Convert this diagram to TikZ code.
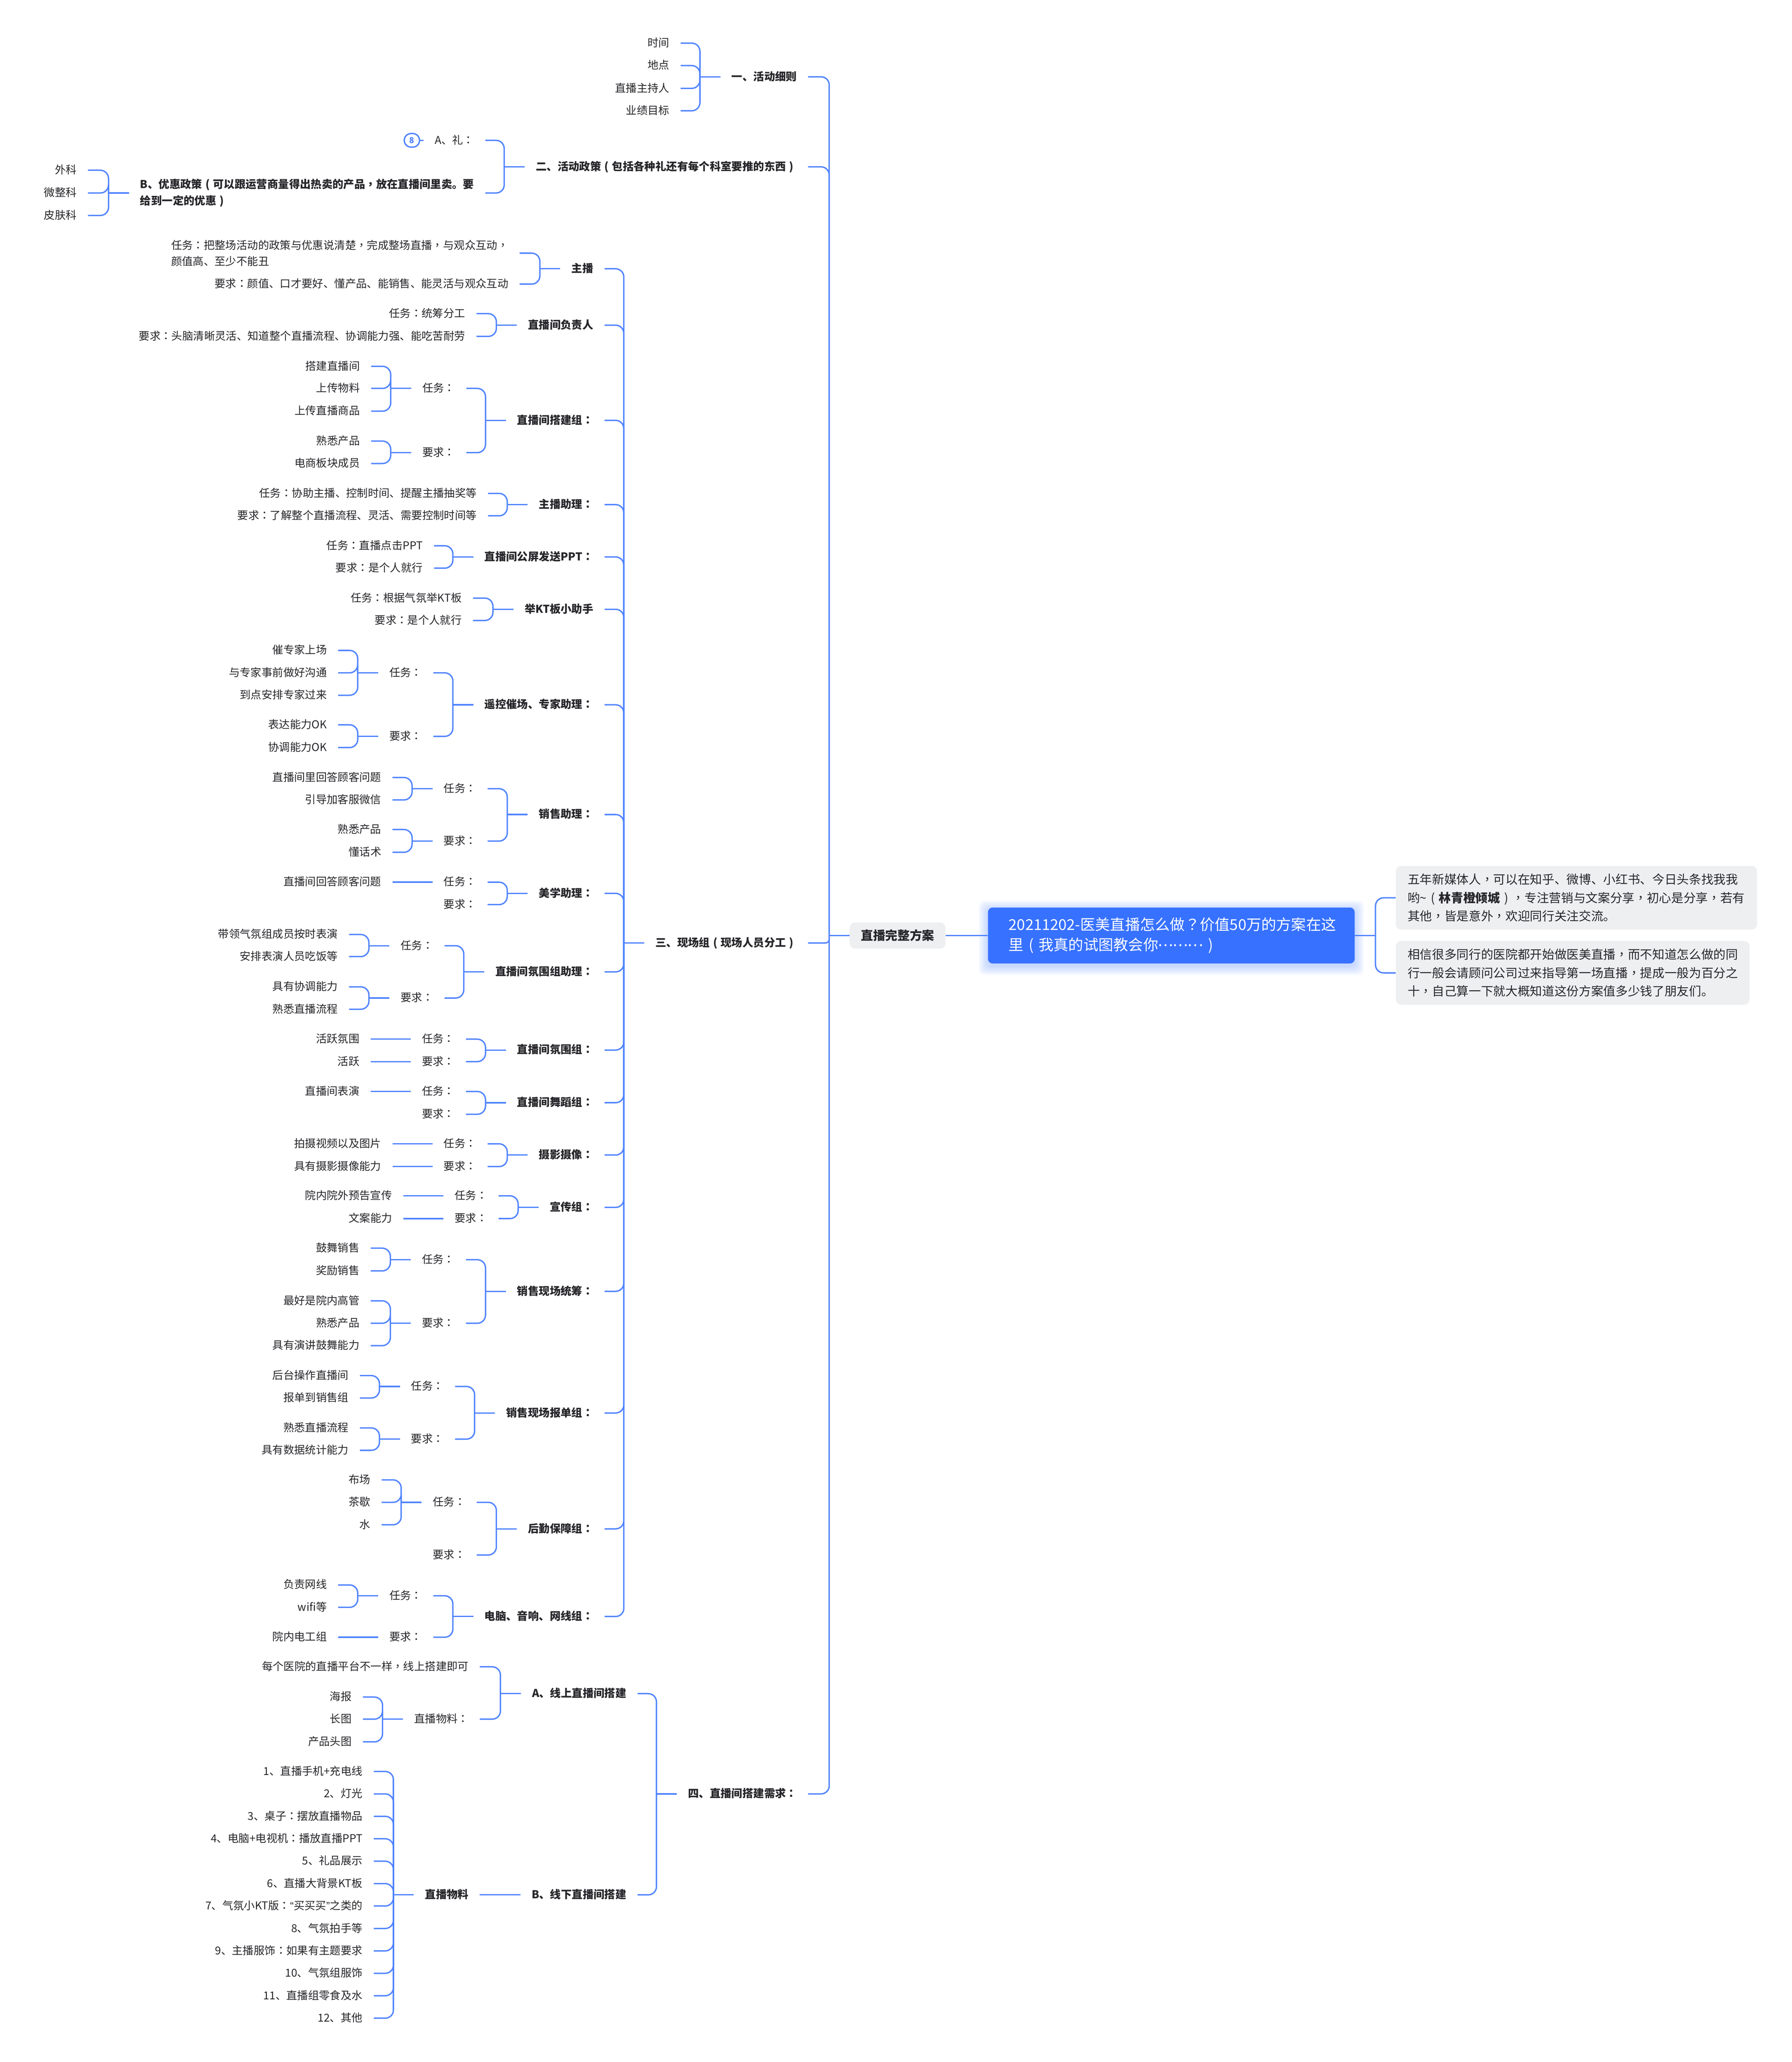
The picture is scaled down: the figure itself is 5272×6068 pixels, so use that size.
\documentclass[tikz,border=0pt]{standalone}
\usepackage{fontspec}
\usepackage{newunicodechar}
\setmainfont{Noto Sans CJK SC}
\newfontfamily\tcpunct{Noto Sans CJK TC}
\newfontfamily\quotefont{Liberation Sans}
\newunicodechar{：}{{\tcpunct\symbol{"FF1A}}}
\newunicodechar{，}{{\tcpunct\symbol{"FF0C}}}
\newunicodechar{（}{\makebox[1em][c]{(}}
\newunicodechar{）}{\makebox[1em][c]{)}}
\newunicodechar{？}{{\tcpunct\symbol{"FF1F}}}
\newunicodechar{…}{\raisebox{0.3em}{\makebox[1em][s]{.\hfil.\hfil.}}}
\newunicodechar{“}{{\quotefont\symbol{"201C}}}
\newunicodechar{”}{{\quotefont\symbol{"201D}}}
\usetikzlibrary{calc,backgrounds}
\definecolor{wire}{RGB}{79,131,255}
\definecolor{ink}{RGB}{38,38,42}
\definecolor{paper}{RGB}{238,239,241}
\definecolor{rootblue}{RGB}{55,113,255}
\newcommand{\branch}[2]{%
	\draw[link] (#1.west) -- ++(-60,0) coordinate (#1-trunk);
	\foreach \kid in {#2} {\draw[link,rounded corners=24pt] (#1-trunk) |- (\kid.east);}
}
\begin{document}
\begin{tikzpicture}[
	x=1pt, y=-1pt,
	txt/.style={anchor=east, inner xsep=33pt, inner ysep=0pt, text=ink, font=\fontsize{32}{48}\selectfont},
	leaf/.style={txt, text height=24pt, text depth=2.6pt},
	head/.style={leaf, font=\fontsize{32}{48}\selectfont\bfseries},
	para/.style={txt, align=left},
	note/.style={anchor=west, fill=paper, rounded corners=16pt, inner xsep=35pt, inner ysep=0pt, minimum height=188pt, align=left, text=ink, font=\fontsize{36}{54}\selectfont},
	link/.style={draw=wire, line width=4pt},
	gift/.style={draw=wire, line width=4pt, fill=white, rounded corners=20pt, minimum width=45pt, minimum height=40pt, inner sep=0pt, text=wire, font=\fontsize{24}{24}\selectfont\bfseries}
	]
	\useasboundingbox (0,0) rectangle (5272,6068);

	% ===== ROOT =====
	\node[note, inner xsep=33pt, minimum height=77pt, font=\fontsize{36}{54}\selectfont\bfseries] (core) at (2500,2753) {直播完整方案};
	\node[note, fill=rootblue, text=white, rounded corners=14pt, inner xsep=61pt, text width=957pt, minimum height=165pt, font=\fontsize{44}{60}\selectfont] (title) at (2907,2753) {20211202-医美直播怎么做？价值50万的方案在这\\里（我真的试图教会你………）};
	\begin{scope}[on background layer]
		\foreach \g in {3,7,...,27} {
			\fill[rootblue, opacity=0.045, rounded corners=16pt] ($(title.south west)+(-\g,\g+7)$) rectangle ($(title.north east)+(\g,-\g+7)$);
		}
	\end{scope}
	\node[note, text width=993pt] (N1) at (4107,2642) {五年新媒体人，可以在知乎、微博、小红书、今日头条找我我\\哟\textasciitilde（{\bfseries 林青橙倾城}），专注营销与文案分享，初心是分享，若有\\其他，皆是意外，欢迎同行关注交流。};
	\node[note, text width=971pt] (N2) at (4107,2863) {相信很多同行的医院都开始做医美直播，而不知道怎么做的同\\行一般会请顾问公司过来指导第一场直播，提成一般为百分之\\十，自己算一下就大概知道这份方案值多少钱了朋友们。};

	\draw[link] (core.east) -- (title.west);
	\draw[link] (title.east) -- ++(61,0) coordinate (title-trunk);
	\foreach \kid in {N1,N2} {\draw[link,rounded corners=24pt] (title-trunk) |- (\kid.west);}

	% ===== MAIN BRANCHES =====
	\node[head] (S1) at (2378,226) {一、活动细则};
	\node[head] (S2) at (2378,491) {二、活动政策（包括各种礼还有每个科室要推的东西）};
	\node[head] (S3) at (2378,2775) {三、现场组（现场人员分工）};
	\node[head] (S4) at (2378,5279) {四、直播间搭建需求：};
	\branch{core}{S1,S2,S4}
	\draw[link,rounded corners=11pt] (core-trunk) |- (S3.east);

	% ===== 一 =====
	\node[leaf] (S1a) at (2003,127) {时间};
	\node[leaf] (S1b) at (2003,193) {地点};
	\node[leaf] (S1c) at (2003,260) {直播主持人};
	\node[leaf] (S1d) at (2003,326) {业绩目标};
	\branch{S1}{S1a,S1b,S1c,S1d}

	% ===== 二 =====
	\node[leaf] (S2a) at (1428,413) {A、礼：};
	\node[para, font=\fontsize{32}{48}\selectfont\bfseries] (S2b) at (1428,568) {B、优惠政策（可以跟运营商量得出热卖的产品，放在直播间里卖。要\\给到一定的优惠）};
	\node[leaf] (S2b1) at (259,501) {外科};
	\node[leaf] (S2b2) at (259,568) {微整科};
	\node[leaf] (S2b3) at (259,634) {皮肤科};
	\node[gift] (S2m) at (1212,413) {8};
	\branch{S2}{S2a,S2b}
	\branch{S2b}{S2b1,S2b2,S2b3}
	\draw[link] (S2a.west) -- (S2m.east);

	% ===== 三: GROUPS =====
	\node[head] (G1) at (1779,791) {主播};
	\node[head] (G2) at (1779,957) {直播间负责人};
	\node[head] (G3) at (1779,1237) {直播间搭建组：};
	\node[head] (G4) at (1779,1485) {主播助理：};
	\node[head] (G5) at (1779,1639) {直播间公屏发送PPT：};
	\node[head] (G6) at (1779,1793) {举KT板小助手};
	\node[head] (G7) at (1779,2074) {遥控催场、专家助理：};
	\node[head] (G8) at (1779,2397) {销售助理：};
	\node[head] (G9) at (1779,2629) {美学助理：};
	\node[head] (G10) at (1779,2860) {直播间氛围组助理：};
	\node[head] (G11) at (1779,3090) {直播间氛围组：};
	\node[head] (G12) at (1779,3245) {直播间舞蹈组：};
	\node[head] (G13) at (1779,3399) {摄影摄像：};
	\node[head] (G14) at (1779,3553) {宣传组：};
	\node[head] (G15) at (1779,3800) {销售现场统筹：};
	\node[head] (G16) at (1779,4158) {销售现场报单组：};
	\node[head] (G17) at (1779,4499) {后勤保障组：};
	\node[head] (G18) at (1779,4757) {电脑、音响、网线组：};
	\branch{S3}{G1,G2,G3,G4,G5,G6,G7,G8,G9,G10,G11,G12,G13,G14,G15,G16,G17,G18}

	% ===== 主播, 负责人 =====
	\node[para] (G1T) at (1529,745) {任务：把整场活动的政策与优惠说清楚，完成整场直播，与观众互动，\\颜值高、至少不能丑};
	\node[leaf] (G1R) at (1529,836) {要求：颜值、口才要好、懂产品、能销售、能灵活与观众互动};
	\branch{G1}{G1T,G1R}
	\node[leaf] (G2T) at (1402,923) {任务：统筹分工};
	\node[leaf] (G2R) at (1402,990) {要求：头脑清晰灵活、知道整个直播流程、协调能力强、能吃苦耐劳};
	\branch{G2}{G2T,G2R}

	% ===== 搭建组 =====
	\node[leaf] (G3T) at (1372,1143) {任务：};
	\node[leaf] (G3R) at (1372,1332) {要求：};
	\node[leaf] (G3T1) at (1092,1078) {搭建直播间};
	\node[leaf] (G3T2) at (1092,1143) {上传物料};
	\node[leaf] (G3T3) at (1092,1210) {上传直播商品};
	\node[leaf] (G3R1) at (1092,1298) {熟悉产品};
	\node[leaf] (G3R2) at (1092,1364) {电商板块成员};
	\branch{G3}{G3T,G3R}
	\branch{G3T}{G3T1,G3T2,G3T3}
	\branch{G3R}{G3R1,G3R2}

	% ===== 主播助理, 公屏, 举KT板 =====
	\node[leaf] (G4T) at (1436,1452) {任务：协助主播、控制时间、提醒主播抽奖等};
	\node[leaf] (G4R) at (1436,1518) {要求：了解整个直播流程、灵活、需要控制时间等};
	\branch{G4}{G4T,G4R}
	\node[leaf] (G5T) at (1277,1606) {任务：直播点击PPT};
	\node[leaf] (G5R) at (1277,1672) {要求：是个人就行};
	\branch{G5}{G5T,G5R}
	\node[leaf] (G6T) at (1392,1760) {任务：根据气氛举KT板};
	\node[leaf] (G6R) at (1392,1826) {要求：是个人就行};
	\branch{G6}{G6T,G6R}

	% ===== 遥控 =====
	\node[leaf] (G7T) at (1275,1980) {任务：};
	\node[leaf] (G7R) at (1275,2167) {要求：};
	\node[leaf] (G7T1) at (995,1914) {催专家上场};
	\node[leaf] (G7T2) at (995,1980) {与专家事前做好沟通};
	\node[leaf] (G7T3) at (995,2046) {到点安排专家过来};
	\node[leaf] (G7R1) at (995,2133) {表达能力OK};
	\node[leaf] (G7R2) at (995,2200) {协调能力OK};
	\branch{G7}{G7T,G7R}
	\branch{G7T}{G7T1,G7T2,G7T3}
	\branch{G7R}{G7R1,G7R2}

	% ===== 销售助理 =====
	\node[leaf] (G8T) at (1435,2321) {任务：};
	\node[leaf] (G8R) at (1435,2475) {要求：};
	\node[leaf] (G8T1) at (1155,2288) {直播间里回答顾客问题};
	\node[leaf] (G8T2) at (1155,2354) {引导加客服微信};
	\node[leaf] (G8R1) at (1155,2441) {熟悉产品};
	\node[leaf] (G8R2) at (1155,2508) {懂话术};
	\branch{G8}{G8T,G8R}
	\branch{G8T}{G8T1,G8T2}
	\branch{G8R}{G8R1,G8R2}

	% ===== 美学助理 =====
	\node[leaf] (G9T) at (1435,2596) {任务：};
	\node[leaf] (G9R) at (1435,2662) {要求：};
	\node[leaf] (G9T1) at (1155,2596) {直播间回答顾客问题};
	\branch{G9}{G9T,G9R}
	\draw[link] (G9T.west) -- (G9T1.east);

	% ===== 氛围组助理 =====
	\node[leaf] (G10T) at (1308,2783) {任务：};
	\node[leaf] (G10R) at (1308,2937) {要求：};
	\node[leaf] (G10T1) at (1027,2750) {带领气氛组成员按时表演};
	\node[leaf] (G10T2) at (1027,2815) {安排表演人员吃饭等};
	\node[leaf] (G10R1) at (1027,2904) {具有协调能力};
	\node[leaf] (G10R2) at (1027,2970) {熟悉直播流程};
	\branch{G10}{G10T,G10R}
	\branch{G10T}{G10T1,G10T2}
	\branch{G10R}{G10R1,G10R2}

	% ===== 氛围组, 舞蹈组, 摄影, 宣传 =====
	\node[leaf] (G11T) at (1371,3058) {任务：};
	\node[leaf] (G11R) at (1371,3124) {要求：};
	\node[leaf] (G11T1) at (1091,3058) {活跃氛围};
	\node[leaf] (G11R1) at (1091,3124) {活跃};
	\branch{G11}{G11T,G11R}
	\draw[link] (G11T.west) -- (G11T1.east);
	\draw[link] (G11R.west) -- (G11R1.east);

	\node[leaf] (G12T) at (1371,3212) {任务：};
	\node[leaf] (G12R) at (1371,3279) {要求：};
	\node[leaf] (G12T1) at (1091,3212) {直播间表演};
	\branch{G12}{G12T,G12R}
	\draw[link] (G12T.west) -- (G12T1.east);

	\node[leaf] (G13T) at (1435,3366) {任务：};
	\node[leaf] (G13R) at (1435,3433) {要求：};
	\node[leaf] (G13T1) at (1155,3366) {拍摄视频以及图片};
	\node[leaf] (G13R1) at (1155,3433) {具有摄影摄像能力};
	\branch{G13}{G13T,G13R}
	\draw[link] (G13T.west) -- (G13T1.east);
	\draw[link] (G13R.west) -- (G13R1.east);

	\node[leaf] (G14T) at (1467,3519) {任务：};
	\node[leaf] (G14R) at (1467,3586) {要求：};
	\node[leaf] (G14T1) at (1187,3519) {院内院外预告宣传};
	\node[leaf] (G14R1) at (1187,3586) {文案能力};
	\branch{G14}{G14T,G14R}
	\draw[link] (G14T.west) -- (G14T1.east);
	\draw[link] (G14R.west) -- (G14R1.east);

	% ===== 统筹 =====
	\node[leaf] (G15T) at (1371,3707) {任务：};
	\node[leaf] (G15R) at (1371,3894) {要求：};
	\node[leaf] (G15T1) at (1091,3673) {鼓舞销售};
	\node[leaf] (G15T2) at (1091,3740) {奖励销售};
	\node[leaf] (G15R1) at (1091,3828) {最好是院内高管};
	\node[leaf] (G15R2) at (1091,3894) {熟悉产品};
	\node[leaf] (G15R3) at (1091,3960) {具有演讲鼓舞能力};
	\branch{G15}{G15T,G15R}
	\branch{G15T}{G15T1,G15T2}
	\branch{G15R}{G15R1,G15R2,G15R3}

	% ===== 报单组 =====
	\node[leaf] (G16T) at (1339,4080) {任务：};
	\node[leaf] (G16R) at (1339,4235) {要求：};
	\node[leaf] (G16T1) at (1059,4048) {后台操作直播间};
	\node[leaf] (G16T2) at (1059,4114) {报单到销售组};
	\node[leaf] (G16R1) at (1059,4202) {熟悉直播流程};
	\node[leaf] (G16R2) at (1059,4268) {具有数据统计能力};
	\branch{G16}{G16T,G16R}
	\branch{G16T}{G16T1,G16T2}
	\branch{G16R}{G16R1,G16R2}

	% ===== 后勤 =====
	\node[leaf] (G17T) at (1403,4421) {任务：};
	\node[leaf] (G17R) at (1403,4576) {要求：};
	\node[leaf] (G17T1) at (1123,4355) {布场};
	\node[leaf] (G17T2) at (1123,4421) {茶歇};
	\node[leaf] (G17T3) at (1123,4487) {水};
	\branch{G17}{G17T,G17R}
	\branch{G17T}{G17T1,G17T2,G17T3}

	% ===== 电脑 =====
	\node[leaf] (G18T) at (1275,4696) {任务：};
	\node[leaf] (G18R) at (1275,4818) {要求：};
	\node[leaf] (G18T1) at (995,4664) {负责网线};
	\node[leaf] (G18T2) at (995,4730) {wifi等};
	\node[leaf] (G18R1) at (995,4818) {院内电工组};
	\branch{G18}{G18T,G18R}
	\branch{G18T}{G18T1,G18T2}
	\draw[link] (G18R.west) -- (G18R1.east);

	% ===== 四 =====
	\node[head] (S4a) at (1876,4984) {A、线上直播间搭建};
	\node[head] (S4b) at (1876,5576) {B、线下直播间搭建};
	\branch{S4}{S4a,S4b}

	\node[leaf] (A1) at (1412,4905) {每个医院的直播平台不一样，线上搭建即可};
	\node[leaf] (A2) at (1412,5059) {直播物料：};
	\node[leaf] (A21) at (1068,4994) {海报};
	\node[leaf] (A22) at (1068,5059) {长图};
	\node[leaf] (A23) at (1068,5126) {产品头图};
	\branch{S4a}{A1,A2}
	\branch{A2}{A21,A22,A23}

	\node[head] (B1) at (1412,5576) {直播物料};
	\draw[link] (S4b.west) -- (B1.east);
	\foreach \i/\item in {1/1、直播手机+充电线, 2/2、灯光, 3/3、桌子：摆放直播物品, 4/4、电脑+电视机：播放直播PPT, 5/5、礼品展示, 6/6、直播大背景KT板, 7/7、气氛小KT版：“买买买”之类的, 8/8、气氛拍手等, 9/9、主播服饰：如果有主题要求, 10/10、气氛组服饰, 11/11、直播组零食及水, 12/12、其他} {
		\node[leaf] (K\i) at (1100,{5147+66*\i}) {\item};
	}
	\branch{B1}{K1,K2,K3,K4,K5,K6,K7,K8,K9,K10,K11,K12}
\end{tikzpicture}
\end{document}
